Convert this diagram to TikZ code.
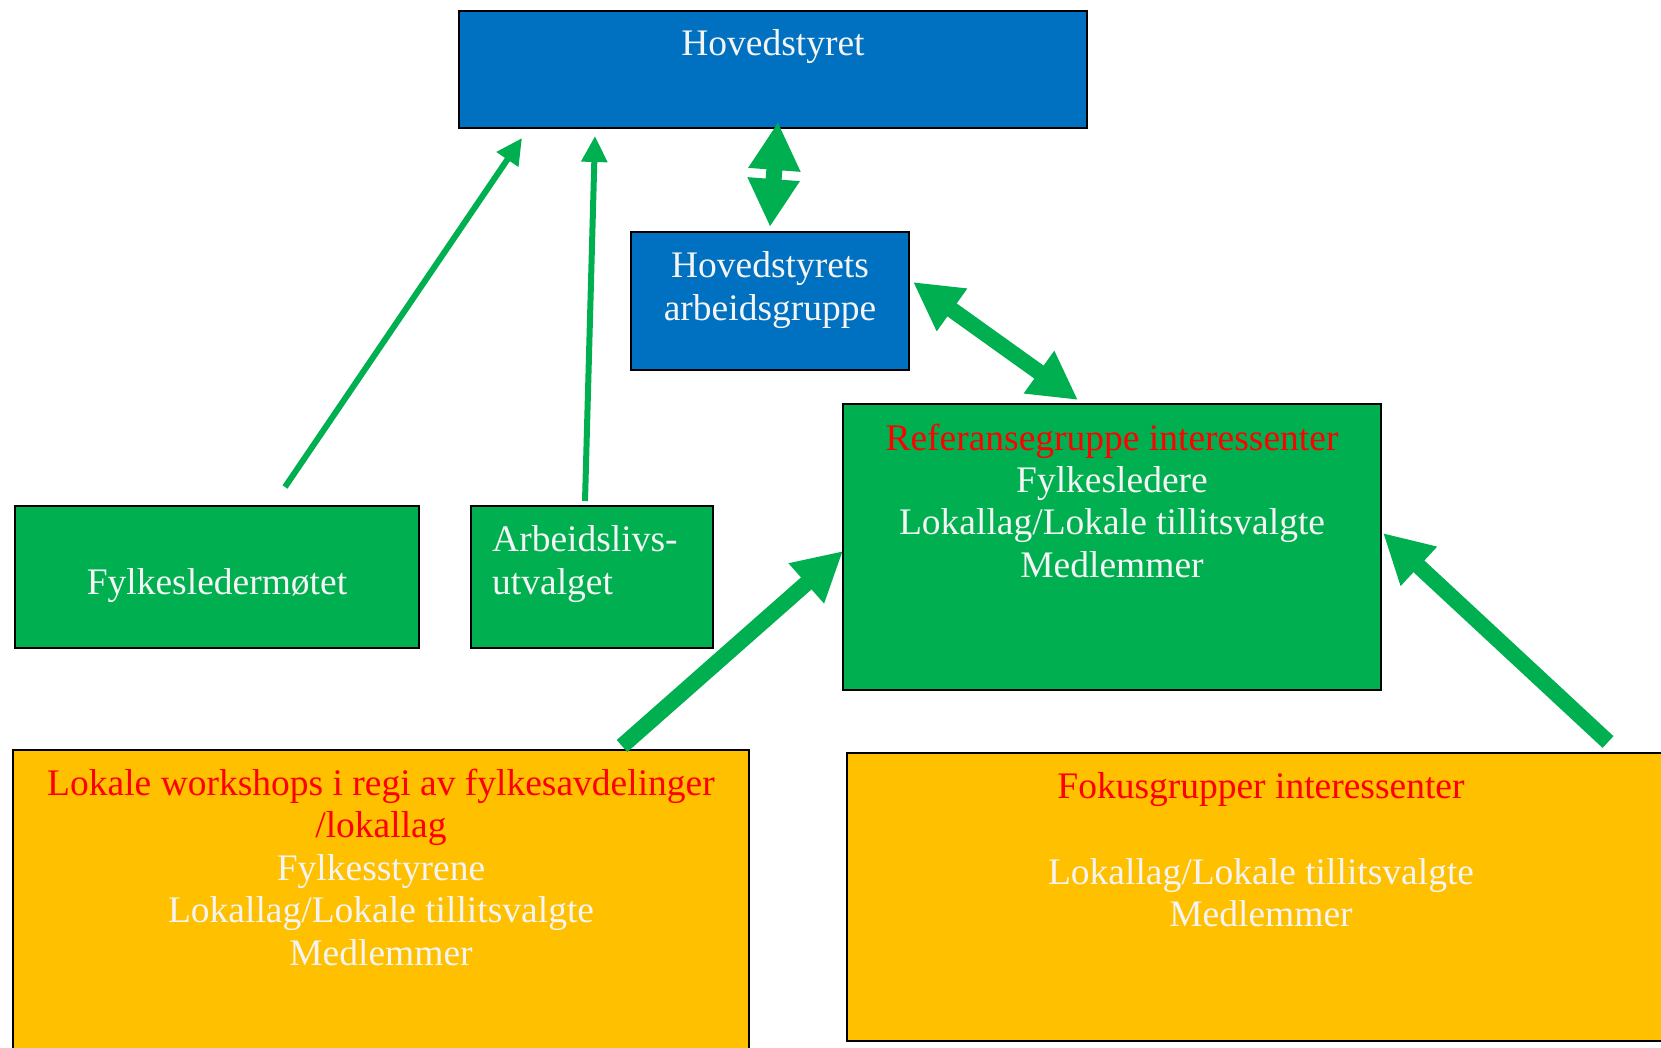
\documentclass[tikz,border=0pt]{standalone}
\usepackage{fontspec}
\setmainfont{Liberation Serif}
\usetikzlibrary{arrows.meta,calc}
\definecolor{hsblue}{HTML}{0070C0}
\definecolor{hsgreen}{HTML}{00B050}
\definecolor{hsorange}{HTML}{FFC000}
\definecolor{hsred}{HTML}{FF0000}
\definecolor{hstext}{HTML}{F4F4F4}
\begin{document}
\begin{tikzpicture}[x=1pt,y=-1pt,
  box/.style={draw=black, line width=1.2pt, inner sep=0pt, outer sep=0pt, anchor=north west},
  txt/.style={text=hstext, font=\fontsize{37.5}{42.5}\selectfont, inner sep=0pt, anchor=base, align=center},
  redtxt/.style={txt, text=hsred},
  thinarrow/.style={draw=hsgreen, line width=6pt, -{Triangle[length=26pt,width=25pt]}},
  thickarrow/.style={draw=hsgreen, line width=16pt, -{Triangle[length=49pt,width=50pt]}},
  dblarrow/.style={draw=hsgreen, line width=16pt, {Triangle[length=48pt,width=49pt]}-{Triangle[length=48pt,width=49pt]}}]
\useasboundingbox (0,0) rectangle (1661,1048);
\clip (0,0) rectangle (1661,1048);
% boxes
\node[box, fill=hsblue, minimum width=628pt, minimum height=117pt] (hs) at (459,11) {};
\node[box, fill=hsblue, minimum width=278pt, minimum height=138pt] (ag) at (631,232) {};
\node[box, fill=hsgreen, minimum width=538pt, minimum height=286pt] (ref) at (843,404) {};
\node[box, fill=hsgreen, minimum width=404pt, minimum height=142pt] (fm) at (15,506) {};
\node[box, fill=hsgreen, minimum width=242pt, minimum height=142pt] (arb) at (471,506) {};
\node[box, fill=hsorange, minimum width=736pt, minimum height=330pt] (lok) at (13,750) {};
\node[box, fill=hsorange, minimum width=828pt, minimum height=288pt] (fok) at (847,753) {};
% texts (multi-line nodes are placed at the baseline of their last line)
\node[txt] (hst) at (773,56) {Hovedstyret};
\node[txt] (agt) at (770,320) {Hovedstyrets\\arbeidsgruppe};
\node[redtxt] (reft1) at (1112,450) {Referansegruppe interessenter};
\node[txt] (reft2) at (1112,577) {Fylkesledere\\Lokallag/Lokale tillitsvalgte\\Medlemmer};
\node[txt] (fmt) at (217,594) {Fylkesledermøtet};
\node[txt, anchor=base west, align=left] (arbt) at (492,594) {Arbeidslivs-\\utvalget};
\node[redtxt] (lokt1) at (381,837.5) {Lokale workshops i regi av fylkesavdelinger\\/lokallag};
\node[txt] (lokt2) at (381,965) {Fylkesstyrene\\Lokallag/Lokale tillitsvalgte\\Medlemmer};
\node[redtxt] (fokt1) at (1261,798) {Fokusgrupper interessenter};
\node[txt] (fokt2) at (1261,926.5) {Lokallag/Lokale tillitsvalgte\\Medlemmer};
% connector end points
\coordinate (a1s) at ($(fm.north west)+(270,-19)$);
\coordinate (a1e) at ($(hs.south west)+(63,10)$);
\coordinate (a2s) at ($(arb.north west)+(114,-5)$);
\coordinate (a2e) at ($(hs.south west)+(136,8)$);
\coordinate (a3s) at ($(ag.north)+(0,-5)$);
\coordinate (a3e) at ($(hs.south)+(5,-6)$);
\coordinate (a4s) at ($(ag.east)+(4,-19)$);
\coordinate (a4e) at ($(ref.north west)+(235,-4)$);
\coordinate (a5s) at ($(lok.north west)+(609,-4)$);
\coordinate (a5e) at ($(ref.north west)+(0,147)$);
\coordinate (a6s) at ($(fok.north west)+(761,-11)$);
\coordinate (a6e) at ($(ref.north east)+(2,129)$);
% connectors
\draw[thinarrow] (a1s) -- (a1e);
\draw[thinarrow] (a2s) -- (a2e);
\draw[dblarrow] (a3s) -- (a3e);
\draw[dblarrow] (a4s) -- (a4e);
\draw[thickarrow] (a5s) -- (a5e);
\draw[thickarrow] (a6s) -- (a6e);
\end{tikzpicture}
\end{document}
